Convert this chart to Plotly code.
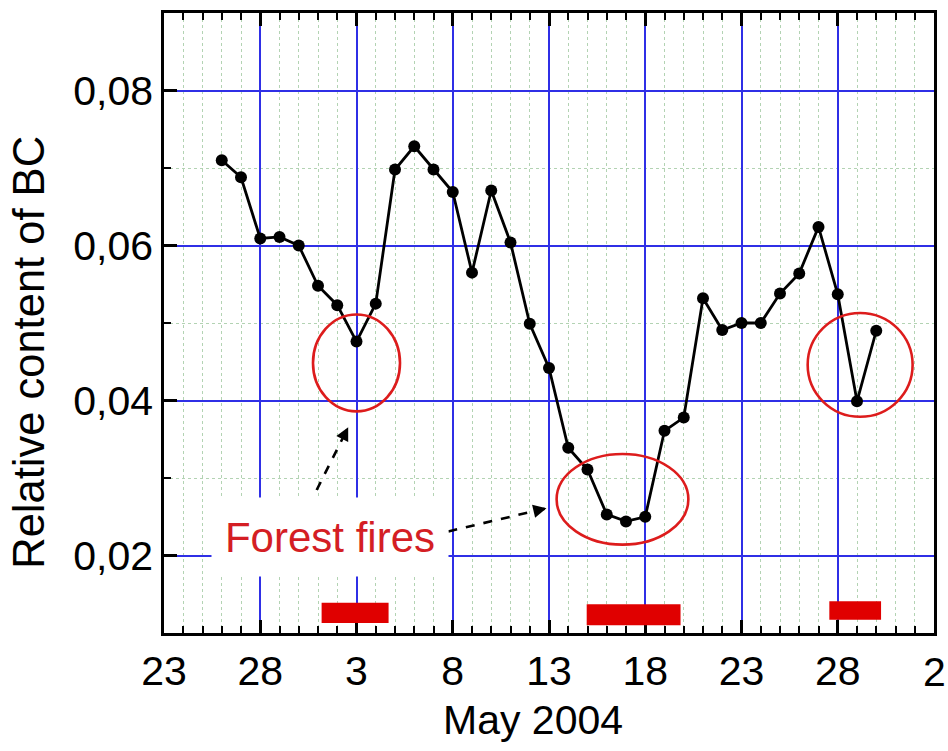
import plotly.graph_objects as go

# ---- data ----
dates = ["2004-04-26", "2004-04-27", "2004-04-28", "2004-04-29", "2004-04-30",
         "2004-05-01", "2004-05-02", "2004-05-03", "2004-05-04", "2004-05-05",
         "2004-05-06", "2004-05-07", "2004-05-08", "2004-05-09", "2004-05-10",
         "2004-05-11", "2004-05-12", "2004-05-13", "2004-05-14", "2004-05-15",
         "2004-05-16", "2004-05-17", "2004-05-18", "2004-05-19", "2004-05-20",
         "2004-05-21", "2004-05-22", "2004-05-23", "2004-05-24", "2004-05-25",
         "2004-05-26", "2004-05-27", "2004-05-28", "2004-05-29", "2004-05-30"]
bc_values = [0.0710, 0.0688, 0.0609, 0.0611, 0.0600,
             0.0548, 0.0523, 0.0476, 0.0525, 0.0698,
             0.0728, 0.0698, 0.0669, 0.0565, 0.0671,
             0.0604, 0.0499, 0.0442, 0.0339, 0.0311,
             0.0253, 0.0244, 0.0250, 0.0361, 0.0378,
             0.0532, 0.0491, 0.0500, 0.0500, 0.0538,
             0.0564, 0.0624, 0.0537, 0.0399, 0.0490]

# x tick positions and labels (last one drawn separately at the axis end)
tick_dates = ["2004-04-23", "2004-04-28", "2004-05-03", "2004-05-08", "2004-05-13",
              "2004-05-18", "2004-05-23", "2004-05-28", "2004-06-02"]
tick_labels = ["23", "28", "3", "8", "13", "18", "23", "28", "2"]

# fire periods (start, end) and bar vertical extent
fire_start = ["2004-05-01 04:30", "2004-05-14 23:00", "2004-05-27 13:30"]
fire_end = ["2004-05-04 16:00", "2004-05-19 20:00", "2004-05-30 06:00"]
fire_y0 = [0.0113, 0.0110, 0.0117]
fire_y1 = [0.0139, 0.0137, 0.0141]

# highlighted episodes (ellipses)
ell_x0 = ["2004-04-30 17:45", "2004-05-13 09:30", "2004-05-26 10:30"]
ell_x1 = ["2004-05-05 06:15", "2004-05-20 05:45", "2004-05-31 21:20"]
ell_y0 = [0.0386, 0.0214, 0.0379]
ell_y1 = [0.0511, 0.0331, 0.0513]

# label and pointer arrows
label_text = "Forest fires"
label_x = "2004-05-01 15:00"
label_y = 0.0224
arrow_tail_x = ["2004-04-30 22:20", "2004-05-07 18:30"]
arrow_tail_y = [0.02845, 0.02311]
arrow_head_x = ["2004-05-02 13:40", "2004-05-12 20:50"]
arrow_head_y = [0.03655, 0.02610]
arrow_dir_px = [(-6.3, 12.5), (-13.6, 3.2)]

x_title = "May 2004"
y_title = "Relative content of BC"
x_range = ["2004-04-23", "2004-06-02"]
y_range = [0.01, 0.09]

FONT = "Arial, Liberation Sans, sans-serif"
RED = "#e00000"
BLUE = "#2f2fe6"
MINOR = "#b3d3b3"

fig = go.Figure()
fig.add_trace(go.Scatter(
    x=dates, y=bc_values, mode="lines+markers",
    line=dict(color="black", width=2.8),
    marker=dict(color="black", size=12),
    showlegend=False, hoverinfo="x+y",
))

shapes = []
for xs, xe, ys, ye in zip(fire_start, fire_end, fire_y0, fire_y1):
    shapes.append(dict(type="rect", xref="x", yref="y", x0=xs, x1=xe, y0=ys, y1=ye,
                       fillcolor=RED, line=dict(width=0), layer="above"))
for xs, xe, ys, ye in zip(ell_x0, ell_x1, ell_y0, ell_y1):
    shapes.append(dict(type="circle", xref="x", yref="y", x0=xs, x1=xe, y0=ys, y1=ye,
                       line=dict(color="#dd1c1c", width=2.6), layer="above"))
for tx, ty, hx, hy in zip(arrow_tail_x, arrow_tail_y, arrow_head_x, arrow_head_y):
    shapes.append(dict(type="line", xref="x", yref="y", x0=tx, y0=ty, x1=hx, y1=hy,
                       line=dict(color="black", width=2.6, dash="dash"), layer="above"))

annotations = [dict(
    x=label_x, y=label_y, xref="x", yref="y", text=label_text, showarrow=False,
    font=dict(family=FONT, size=42, color="#d41e24"),
    bgcolor="white", width=218, height=60, borderpad=9,
)]
for hx, hy, (dx, dy) in zip(arrow_head_x, arrow_head_y, arrow_dir_px):
    annotations.append(dict(
        x=hx, y=hy, xref="x", yref="y", text="", showarrow=True,
        ax=dx, ay=dy, axref="pixel", ayref="pixel",
        arrowhead=2, arrowsize=1.2, arrowwidth=2.2, arrowcolor="black",
    ))
# last x tick label placed as text so it does not overflow the page
annotations.append(dict(
    text=tick_labels[-1], x=tick_dates[-1], xref="x", yref="paper", y=0, yshift=-39,
    xanchor="center", yanchor="middle", showarrow=False,
    font=dict(family=FONT, size=41, color="black"),
))
# axis titles
annotations.append(dict(
    text=x_title, xref="paper", yref="paper", x=0.479, y=0, yshift=-87,
    xanchor="center", yanchor="middle", showarrow=False,
    font=dict(family=FONT, size=41, color="black"),
))
annotations.append(dict(
    text=y_title, xref="paper", yref="paper", x=0, xshift=-135, y=0.452,
    xanchor="center", yanchor="middle", textangle=-90, showarrow=False,
    font=dict(family=FONT, size=43.5, color="black"),
))

fig.update_layout(
    width=948, height=751,
    margin=dict(l=164, r=14, t=10, b=118),
    paper_bgcolor="white", plot_bgcolor="white",
    separators=",.",
    font=dict(family=FONT, size=41, color="black"),
    shapes=shapes, annotations=annotations,
    showlegend=False,
)
fig.update_xaxes(
    type="date", range=x_range,
    tickmode="array", tickvals=tick_dates, ticktext=tick_labels[:-1] + [""],
    ticks="inside", ticklen=13, tickwidth=2.5, tickcolor="black",
    showline=True, linecolor="black", linewidth=2.5, mirror="ticks",
    showgrid=True, gridcolor=BLUE, gridwidth=1.5,
    zeroline=False,
    tickfont=dict(family=FONT, size=41),
    minor=dict(tick0="2004-04-23", dtick=86400000, ticks="inside", ticklen=7,
               tickwidth=2, tickcolor="black", showgrid=True, gridcolor=MINOR,
               griddash="dot", gridwidth=1),
)
fig.update_yaxes(
    range=y_range, tick0=0, dtick=0.02, tickformat=".2f",
    ticks="inside", ticklen=13, tickwidth=2.5, tickcolor="black",
    showline=True, linecolor="black", linewidth=2.5, mirror=True,
    showgrid=True, gridcolor=BLUE, gridwidth=1.5,
    zeroline=False,
    tickfont=dict(family=FONT, size=41),
    minor=dict(tick0=0, dtick=0.01, ticks="inside", ticklen=7,
               tickwidth=2, tickcolor="black", showgrid=True, gridcolor=MINOR,
               griddash="dot", gridwidth=1),
)

fig.write_html("out.html")
